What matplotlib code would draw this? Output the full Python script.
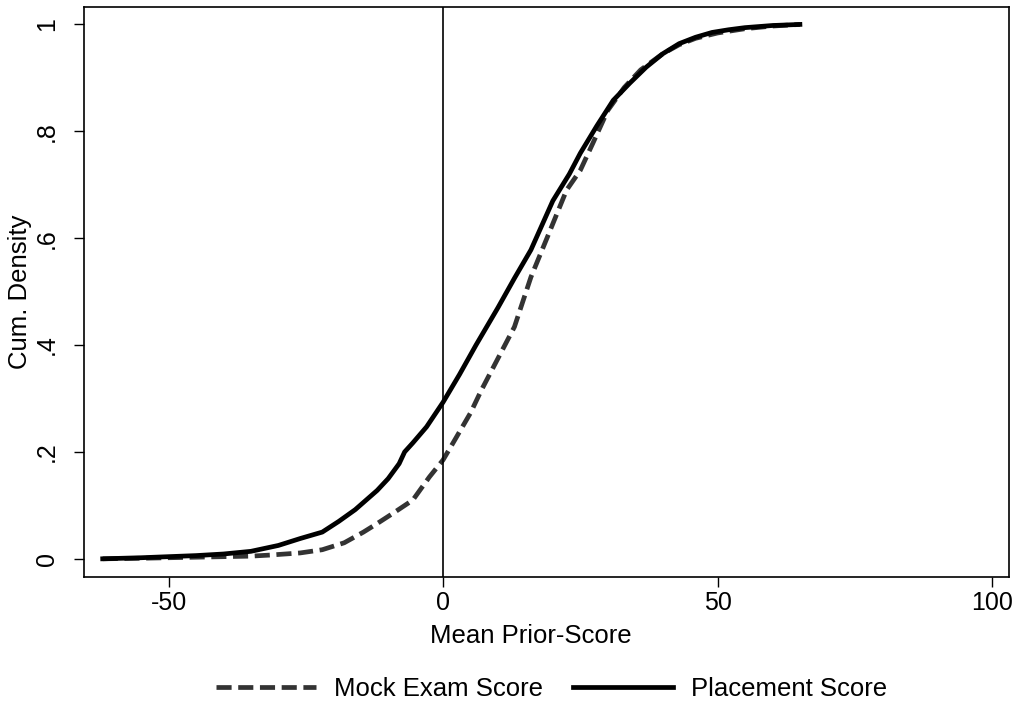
# ECDF of mean prior score: mock exam vs placement
import matplotlib.pyplot as plt

plt.rcParams['font.family'] = ['Liberation Sans', 'DejaVu Sans']
plt.rcParams['axes.unicode_minus'] = False

# Placement score (solid)
place_x = [-62, -55, -50, -45, -40, -35, -30, -26, -22, -19, -16, -14, -12, -10,
           -8, -7, -5.5, -3, 0, 3, 6, 10, 13, 16, 20, 23, 25, 28, 31, 34, 37,
           40, 43, 46, 49, 52, 55, 60, 65]
place_y = [0.0, 0.002, 0.004, 0.006, 0.009, 0.014, 0.025, 0.038, 0.05, 0.07, 0.092,
           0.11, 0.128, 0.15, 0.178, 0.2, 0.217, 0.247, 0.293, 0.345, 0.4, 0.47,
           0.525, 0.578, 0.67, 0.72, 0.759, 0.81, 0.858, 0.89, 0.92, 0.945, 0.964,
           0.976, 0.985, 0.99, 0.994, 0.998, 1.0]

# Mock exam score (dashed)
mock_x = [-62, -55, -50, -45, -40, -35, -31.5, -26, -22, -18, -14.5, -12, -9, -5.5,
          -2.5, 0, 2, 5, 7, 10, 13, 16, 19, 22.5, 25, 27.3, 30, 33, 36, 40, 43, 46,
          50, 55, 60, 65]
mock_y = [0.0, 0.001, 0.002, 0.003, 0.004, 0.005, 0.007, 0.011, 0.017, 0.03, 0.05,
          0.066, 0.086, 0.11, 0.153, 0.185, 0.22, 0.273, 0.316, 0.375, 0.434, 0.527,
          0.602, 0.69, 0.727, 0.778, 0.839, 0.882, 0.915, 0.945, 0.962, 0.974,
          0.984, 0.992, 0.997, 1.0]

xticks = [-50, 0, 50, 100]
yticks = [0, 0.2, 0.4, 0.6, 0.8, 1]
ytick_labels = ['0', '.2', '.4', '.6', '.8', '1']

fig = plt.figure(figsize=(10.21, 7.05), dpi=100)
ax = fig.add_axes([0.0823, 0.1816, 0.906, 0.808])

ax.plot(mock_x, mock_y, color='#333333', lw=3.4, dashes=(3.2, 1.4),
        solid_capstyle='butt', label='Mock Exam Score')
ax.plot(place_x, place_y, color='black', lw=3.4, label='Placement Score')
ax.axvline(0, color='black', lw=1.2)

ax.set_xlim(-65.4, 103.1)
ax.set_ylim(-0.034, 1.032)
ax.set_xticks(xticks)
ax.set_yticks(yticks)
ax.set_yticklabels(ytick_labels, rotation=90, va='center')
ax.tick_params(labelsize=18, length=7, width=1, color='black')
ax.tick_params(axis='y', pad=11)
ax.tick_params(axis='x', pad=3)
for s in ax.spines.values():
    s.set_linewidth(1.2)

ax.set_xlabel('Mean Prior-Score', fontsize=18.5, labelpad=3)
ax.xaxis.set_label_coords(0.483, -0.082)
ax.set_ylabel('Cum. Density', fontsize=18.5, labelpad=2)

fig.legend(loc='center', bbox_to_anchor=(0.540, 0.022), ncol=2, frameon=False,
           fontsize=18.5, handlelength=3.9, handletextpad=0.7, columnspacing=1.17)

fig.savefig('out.png', dpi=100)
